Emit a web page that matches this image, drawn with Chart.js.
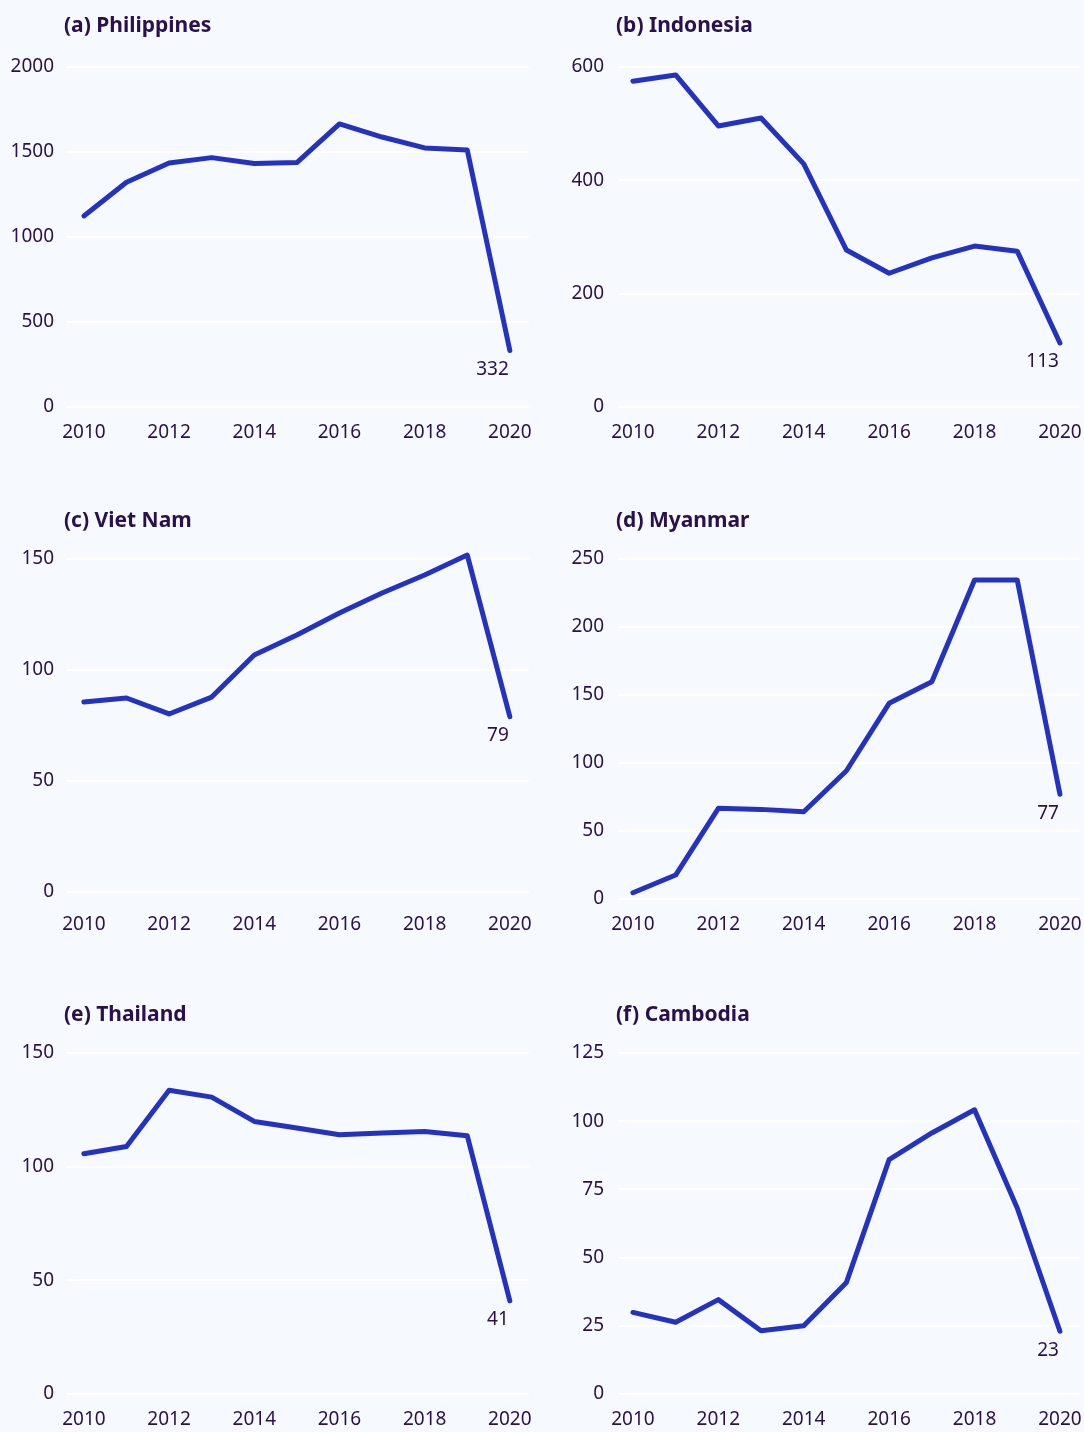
<!DOCTYPE html>
<html><head><meta charset="utf-8">
<script src="https://cdn.jsdelivr.net/npm/chart.js@4.4.1/dist/chart.umd.min.js"></script>
<style>
html,body{margin:0;padding:0;background:#f6f9fd;}
body{width:1084px;height:1432px;position:relative;overflow:hidden;}
canvas{position:absolute;}
</style></head><body>
<script>
// ---- data ----
const years = [2010,2011,2012,2013,2014,2015,2016,2017,2018,2019,2020];
const xTickValues = [2010,2012,2014,2016,2018,2020];
const titles = ['(a) Philippines','(b) Indonesia','(c) Viet Nam','(d) Myanmar','(e) Thailand','(f) Cambodia'];
const philippines = [1124,1322,1435,1467,1432,1438,1665,1588,1524,1512,332];
const indonesia   = [575,586,496,510,429,277,236,263,284,275,113];
const vietNam     = [85.6,87.4,80.2,87.8,106.8,115.8,125.7,134.7,142.8,151.8,79];
const myanmar     = [4.6,17.6,66.7,65.9,64.2,94.3,143.9,159.8,234.6,234.6,77];
const thailand    = [105.7,108.9,133.6,130.6,119.9,117.0,114.0,114.8,115.5,113.6,41];
const cambodia    = [29.9,26.3,34.6,23.2,25.0,40.9,85.9,95.7,104.2,68.2,23];
const yTicksA = [0,500,1000,1500,2000];
const yTicksB = [0,200,400,600];
const yTicksC = [0,50,100,150];
const yTicksD = [0,50,100,150,200,250];
const yTicksE = [0,50,100,150];
const yTicksF = [0,25,50,75,100,125];

const seriesList = [philippines, indonesia, vietNam, myanmar, thailand, cambodia];
const tickList = [yTicksA, yTicksB, yTicksC, yTicksD, yTicksE, yTicksF];

// ---- styling / layout ----
const TEXT = '#29104f';
const LINE = '#2433bf';
const GRID = '#ffffff';
Chart.defaults.font.family = '"Noto Sans", "DejaVu Sans", sans-serif';
Chart.defaults.font.size = 19;
Chart.defaults.color = TEXT;

const colL = {cx:0, cw:545, L:66, R:529, xMin:2009.58, xMax:2020.45, yPad:12};
const colR = {cx:545, cw:539, L:618, R:1080, xMin:2009.65, xMax:2020.47, yPad:14};
const rows = [
  {cy:0,   ch:470, T:67,   B:407,  titleY:26},
  {cy:470, ch:490, T:559,  B:899,  titleY:521},
  {cy:960, ch:472, T:1053, B:1394, titleY:1015}
];
const yRanges = [[0,2000],[0,600],[-3.15,150],[0,250],[0,150],[0,125]];

const deco = {
  id:'deco',
  afterDatasetsDraw(chart, args, opts){
    const ctx = chart.ctx, ca = chart.chartArea;
    ctx.save();
    ctx.fillStyle = TEXT;
    ctx.textBaseline = 'middle';
    ctx.textAlign = 'left';
    ctx.font = 'bold 21px "Noto Sans"';
    ctx.fillText(opts.title, ca.left - 2, opts.titleY);
    const meta = chart.getDatasetMeta(0);
    const pt = meta.data[meta.data.length - 1];
    ctx.font = '19px "Noto Sans"';
    ctx.textAlign = 'right';
    ctx.fillText(opts.label, pt.x - 1, pt.y + 19);
    ctx.restore();
  }
};

for (let i = 0; i < 6; i++) {
  const col = i % 2 === 0 ? colL : colR;
  const row = rows[Math.floor(i / 2)];
  const cv = document.createElement('canvas');
  cv.width = col.cw; cv.height = row.ch;
  cv.style.left = col.cx + 'px'; cv.style.top = row.cy + 'px';
  cv.style.width = col.cw + 'px'; cv.style.height = row.ch + 'px';
  document.body.appendChild(cv);
  const vals = seriesList[i];
  const ticks = tickList[i];
  new Chart(cv, {
    type:'line',
    data:{ datasets:[{
      data: years.map((y, k) => ({x:y, y:vals[k]})),
      borderColor: LINE, borderWidth: 5, pointRadius: 0, tension: 0,
      borderJoinStyle:'round', borderCapStyle:'round', fill:false, clip:false
    }]},
    options:{
      responsive:false, animation:false, devicePixelRatio:1,
      layout:{ padding:{ left:0, top: row.T - row.cy, right: col.cx + col.cw - col.R, bottom: row.cy + row.ch - row.B - 40 } },
      plugins:{ legend:{display:false}, tooltip:{enabled:false}, title:{display:false},
        deco:{ title: titles[i], titleY: row.titleY - row.cy, label: String(vals[vals.length-1]) } },
      scales:{
        x:{ type:'linear', min: col.xMin, max: col.xMax,
          afterBuildTicks: s => { s.ticks = xTickValues.map(v => ({value:v})); },
          afterFit: s => { s.height = 40; s.paddingLeft = 0; s.paddingRight = 0; },
          grid:{ display:false, drawTicks:false }, border:{ display:false },
          ticks:{ padding: 14, color: TEXT, maxRotation:0, callback: v => String(v) } },
        y:{ type:'linear', min: yRanges[i][0], max: yRanges[i][1],
          afterBuildTicks: s => { s.ticks = ticks.map(v => ({value:v})); },
          afterFit: s => { s.width = col.L - col.cx; s.paddingTop = 0; s.paddingBottom = 0; },
          grid:{ color: GRID, lineWidth: 2, drawTicks:false }, border:{ display:false },
          ticks:{ padding: col.yPad, color: TEXT, callback: v => String(v) } }
      }
    },
    plugins:[deco]
  });
}
</script>
</body></html>
